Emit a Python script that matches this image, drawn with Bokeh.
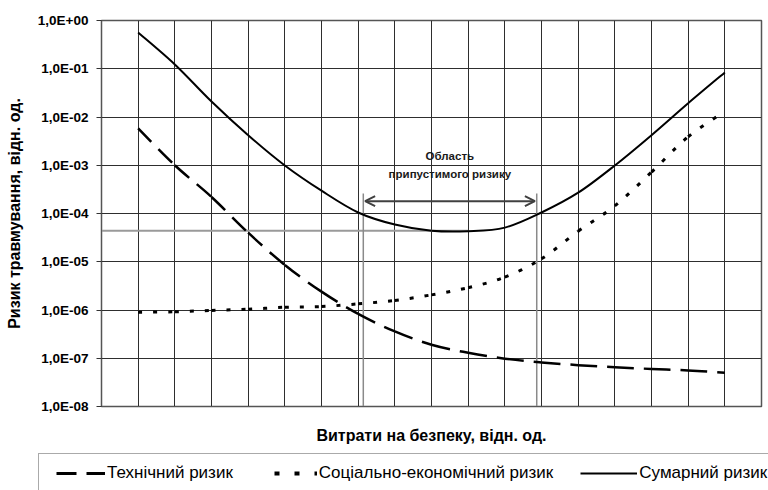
import math
from bokeh.plotting import figure
from bokeh.layouts import column, row
from bokeh.models import (Range1d, FixedTicker, CustomJSTickFormatter, Legend,
                          LegendItem, Arrow, OpenHead)
from bokeh.core.properties import value
from bokeh.embed import file_html
from bokeh.resources import INLINE

# ---- data ----
steps = list(range(17))
tech = [5.8e-3, 1.0e-3, 2.2e-4, 4.0e-5, 8.6e-6, 2.4e-6, 8.3e-7, 3.6e-7, 1.9e-7,
        1.3e-7, 9.8e-8, 8.2e-8, 7.2e-8, 6.5e-8, 6.0e-8, 5.6e-8, 5.0e-8]
socio = [9.0e-7, 9.2e-7, 9.8e-7, 1.04e-6, 1.14e-6, 1.18e-6, 1.34e-6, 1.58e-6, 2.06e-6,
         2.9e-6, 4.8e-6, 1.15e-5, 4.3e-5, 1.44e-4, 7.2e-4, 3.9e-3, 1.3e-2]
total = [0.564, 0.123, 0.021, 4.2e-3, 9.9e-4, 2.97e-4, 1.05e-4, 5.9e-5, 4.4e-5,
         4.3e-5, 5.1e-5, 1.05e-4, 2.7e-4, 9.9e-4, 4.2e-3, 1.93e-2, 8.4e-2]

series_names = ["Технічний ризик", "Соціально-економічний ризик", "Сумарний ризик"]

y_ticks = [1e0, 1e-1, 1e-2, 1e-3, 1e-4, 1e-5, 1e-6, 1e-7, 1e-8]
y_tick_labels = ["1,0E+00", "1,0E-01", "1,0E-02", "1,0E-03", "1,0E-04",
                 "1,0E-05", "1,0E-06", "1,0E-07", "1,0E-08"]
x_grid = list(range(-1, 18))

zone_left, zone_right = 6.14, 10.87
zone_top = 2.6e-4
arrow_y = 1.8e-4
min_level = 4.4e-5
min_line_x = [-1, 9.0]
annot_text = ["Область", "припустимого ризику"]
annot_x = [8.5, 8.5]
annot_y = [1.54e-3, 6.6e-4]

x_title = "Витрати на безпеку, відн. од."
y_title = "Ризик травмування, відн. од."


def smooth_segments(xs, ys):
    """Cubic Bezier pieces (Excel-like smoothing) through the data points,
    built in (x, log10 y) space so they look smooth on the log axis."""
    ly = [math.log10(v) for v in ys]
    n = len(xs)
    out = {k: [] for k in ("x0", "y0", "x1", "y1", "cx0", "cy0", "cx1", "cy1")}
    for i in range(n - 1):
        a, b = max(i - 1, 0), min(i + 2, n - 1)
        out["x0"].append(xs[i]); out["y0"].append(ys[i])
        out["x1"].append(xs[i + 1]); out["y1"].append(ys[i + 1])
        out["cx0"].append(xs[i] + (xs[i + 1] - xs[a]) / 6)
        out["cy0"].append(10 ** (ly[i] + (ly[i + 1] - ly[a]) / 6))
        out["cx1"].append(xs[i + 1] - (xs[b] - xs[i]) / 6)
        out["cy1"].append(10 ** (ly[i + 1] - (ly[b] - ly[i]) / 6))
    return out


# ---- main chart ----
p = figure(frame_width=660, frame_height=386,
           x_range=Range1d(-1, 17), y_range=Range1d(1e-8, 1),
           y_axis_type="log", output_backend="svg", toolbar_location=None,
           min_border_left=101, min_border_right=7, min_border_top=20,
           min_border_bottom=38)
p.outline_line_color = "#555555"
p.outline_line_width = 1.5

grid_col = "#2e2e2e"
p.xgrid.ticker = FixedTicker(ticks=x_grid)
p.ygrid.ticker = FixedTicker(ticks=y_ticks)
for g in (p.xgrid, p.ygrid):
    g.grid_line_color = grid_col
    g.grid_line_width = 1
    g.grid_line_alpha = 1

ya = p.yaxis[0]
ya.ticker = FixedTicker(ticks=y_ticks)
ya.formatter = CustomJSTickFormatter(args=dict(labels=y_tick_labels),
                                     code="return labels[Math.round(-Math.log10(tick))];")
ya.minor_tick_line_color = None
ya.major_tick_in = 0
ya.major_tick_out = 5
ya.major_tick_line_color = "#333333"
ya.axis_line_color = "#555555"
ya.major_label_standoff = 8
ya.major_label_text_font = "Liberation Sans"
ya.major_label_text_font_style = "bold"
ya.major_label_text_font_size = "13.5px"
ya.major_label_text_color = "black"
ya.axis_label = y_title
ya.axis_label_text_font = "Liberation Sans"
ya.axis_label_text_font_style = "bold"
ya.axis_label_text_font_size = "16px"
ya.axis_label_text_color = "black"
ya.axis_label_standoff = 12

xa = p.xaxis[0]
xa.ticker = FixedTicker(ticks=[])
xa.major_tick_out = 0
xa.major_tick_in = 0
xa.minor_tick_line_color = None
xa.major_label_standoff = 0
xa.axis_line_color = "#555555"
xa.axis_label = x_title
xa.axis_label_text_font = "Liberation Sans"
xa.axis_label_text_font_style = "bold"
xa.axis_label_text_font_size = "16px"
xa.axis_label_text_color = "black"
xa.axis_label_standoff = 20

# reference lines
p.line(min_line_x, [min_level, min_level], line_color="#9a9a9a", line_width=2)
p.segment(x0=[zone_left, zone_right], y0=[1e-8, 1e-8],
          x1=[zone_left, zone_right], y1=[zone_top, zone_top],
          line_color="#8a8a8a", line_width=1.5)

# series (smoothed like the original spreadsheet chart)
p.bezier(**smooth_segments(steps, tech), line_color="black", line_width=2.5,
         line_dash="19 10")
p.bezier(**smooth_segments(steps, socio), line_color="black", line_width=3,
         line_dash="4 11")
p.bezier(**smooth_segments(steps, total), line_color="black", line_width=2)

# arrow and annotation
p.add_layout(Arrow(start=OpenHead(size=10, line_color="#404040", line_width=2),
                   end=OpenHead(size=10, line_color="#404040", line_width=2),
                   x_start=zone_left + 0.05, y_start=arrow_y,
                   x_end=zone_right - 0.05, y_end=arrow_y,
                   line_color="#404040", line_width=2))
p.text(x=annot_x, y=annot_y, text=annot_text,
       text_font=value("Liberation Sans"), text_font_style="bold",
       text_font_size="11.5px", text_align="center", text_baseline="middle",
       text_color="#1a1a1a")

# ---- legend strip (its box runs off the bottom/right like the original) ----
pl = figure(width=768, height=46, x_axis_type=None, y_axis_type=None,
            output_backend="svg", toolbar_location=None, min_border=0,
            min_border_left=0, min_border_right=0, min_border_top=0,
            min_border_bottom=0,
            x_range=Range1d(0, 1), y_range=Range1d(0, 1))
pl.outline_line_color = None
pl.xgrid.visible = False
pl.ygrid.visible = False
hidden_x, hidden_y = [-5, -4], [-5, -5]   # outside the strip's ranges: samples only
l_tech = pl.line(x=hidden_x, y=hidden_y, line_color="black", line_width=3,
                 line_dash="20 10", line_dash_offset=22)
l_socio = pl.line(x=hidden_x, y=hidden_y, line_color="black", line_width=4,
                  line_dash="5 15", line_dash_offset=6)
l_total = pl.line(x=hidden_x, y=hidden_y, line_color="black", line_width=1.8)

legend = Legend(items=[LegendItem(label=series_names[0], renderers=[l_tech]),
                       LegendItem(label=series_names[1], renderers=[l_socio]),
                       LegendItem(label=series_names[2], renderers=[l_total])],
                orientation="horizontal", location=(38, -1), margin=0,
                padding=9, spacing=27, glyph_width=57, glyph_height=20,
                label_standoff=2, border_line_color="#555555",
                border_line_width=1.5, background_fill_color="white",
                background_fill_alpha=1,
                label_text_font="Liberation Sans", label_text_font_size="17px",
                label_text_color="black")
pl.add_layout(legend)

page = column(p, row(pl), spacing=0)
open("out.html", "w").write(file_html(page, INLINE))
